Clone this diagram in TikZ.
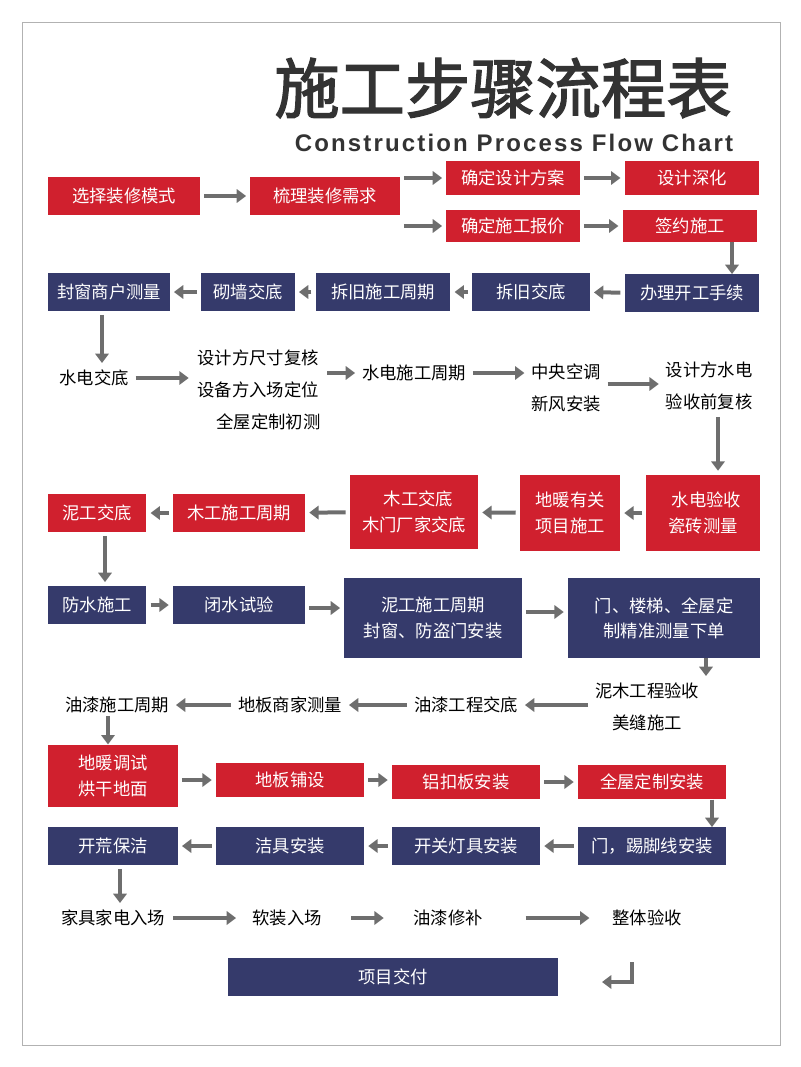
\documentclass[tikz,border=0pt]{standalone}
\usepackage{fontspec}
\setmainfont{Liberation Sans}
\newfontfamily\cjk{Noto Sans CJK SC}
\newfontfamily\cjkbold{Noto Sans CJK SC}[FakeBold=2]
\usetikzlibrary{arrows.meta}
\definecolor{boxred}{HTML}{D0202E}
\definecolor{boxblue}{HTML}{353A6B}
\definecolor{arrgray}{HTML}{6E6E6E}
\definecolor{titlegray}{HTML}{333333}
\tikzset{
  redbox/.style={fill=boxred,text=white,minimum height=28pt,inner sep=2pt,align=center,font=\cjk\fontsize{13}{19}\selectfont},
  bluebox/.style={fill=boxblue,text=white,minimum height=28pt,inner sep=2pt,align=center,font=\cjk\fontsize{13}{19}\selectfont},
  plain/.style={text=black,align=center,inner sep=2pt,font=\cjk\fontsize{13}{24}\selectfont},
  flow/.style={draw=arrgray,line width=3pt,-{Triangle[length=7pt,width=10pt]},shorten <=3pt,shorten >=3pt}
}
\begin{document}
\begin{tikzpicture}[x=0.75pt,y=-0.75pt]
\useasboundingbox (0,0) rectangle (800,1067);
\draw[gray!60] (22,22) rectangle (780,1045);

% title
\node[text=titlegray] at (503,88) {\cjkbold\fontsize{49}{52}\selectfont 施工步骤流程表};
\node[text=titlegray] at (514,143) {\bfseries\fontsize{18}{20}\selectfont\addfontfeature{LetterSpace=9} Construction Process Flow Chart};

% row 1
\node[redbox,minimum width=114pt] (mode) at (124,196) {选择装修模式};
\node[redbox,minimum width=112pt] (need) at (325,196) {梳理装修需求};
\node[redbox,minimum width=100pt,minimum height=26pt] (plan) at (513,178) {确定设计方案};
\node[redbox,minimum width=101pt,minimum height=26pt] (deep) at (692,178) {设计深化};
\node[redbox,minimum width=100pt,minimum height=24pt] (quote) at (513,226) {确定施工报价};
\node[redbox,minimum width=101pt,minimum height=24pt] (sign) at (690,226) {签约施工};
\draw[flow] (mode) -- (need);
\draw[flow] (need.east |- plan) -- (plan.west);
\draw[flow] (need.east |- quote) -- (quote.west);
\draw[flow] (plan) -- (deep);
\draw[flow] (quote) -- (sign);

% row 2
\node[bluebox,minimum width=91pt] (window) at (109,292) {封窗商户测量};
\node[bluebox,minimum width=70pt] (wall) at (248,292) {砌墙交底};
\node[bluebox,minimum width=101pt] (democ) at (383,292) {拆旧施工周期};
\node[bluebox,minimum width=88pt] (demo) at (531,292) {拆旧交底};
\node[bluebox,minimum width=101pt] (start) at (692,293) {办理开工手续};
\draw[flow,shorten <=0pt,shorten >=0pt] (sign.south -| 732,0) -- (start.north -| 732,0);
\draw[flow] (start) -- (demo);
\draw[flow] (demo) -- (democ);
\draw[flow] (democ) -- (wall);
\draw[flow] (wall) -- (window);

% row 3
\node[plain] (elec) at (94,378) {水电交底};
\node[plain] (check) at (258,390) {设计方尺寸复核\\设备方入场定位\\\hspace{1.2em}全屋定制初测};
\node[plain] (elecc) at (414,373) {水电施工周期};
\node[plain] (air) at (566,388) {中央空调\\新风安装};
\node[plain] (recheck) at (709,386) {设计方水电\\验收前复核};
\draw[flow] (window.south -| 102,0) -- (elec.north -| 102,0);
\draw[flow] (elec) -- (check.west |- elec);
\draw[flow] (check.east |- elecc) -- (elecc);
\draw[flow] (elecc) -- (air.west |- elecc);
\draw[flow] (air.east |- 0,384) -- (recheck.west |- 0,384);

% row 4
\node[redbox,minimum width=74pt] (mud) at (97,513) {泥工交底};
\node[redbox,minimum width=99pt] (woodc) at (239,513) {木工施工周期};
\node[redbox,minimum width=96pt,minimum height=56pt] (wood) at (414,512) {\hspace{0.5em}木工交底\\木门厂家交底};
\node[redbox,minimum width=75pt,minimum height=57pt] (heat) at (570,513) {地暖有关\\项目施工};
\node[redbox,minimum width=85pt,minimum height=57pt] (elecok) at (703,513) {\hspace{0.4em}水电验收\\瓷砖测量};
\draw[flow] (recheck.south -| 718,0) -- (elecok.north -| 718,0);
\draw[flow] (elecok) -- (heat);
\draw[flow] (heat) -- (wood);
\draw[flow] (wood) -- (woodc);
\draw[flow] (woodc) -- (mud);

% row 5
\node[bluebox,minimum width=74pt] (water) at (97,605) {防水施工};
\node[bluebox,minimum width=99pt] (test) at (239,605) {闭水试验};
\node[bluebox,minimum width=133pt,minimum height=60pt] (mudc) at (433,618) {泥工施工周期\\封窗、防盗门安装};
\node[bluebox,minimum width=144pt,minimum height=60pt] (stair) at (664,618) {门、楼梯、全屋定\\制精准测量下单};
\draw[flow] (mud.south -| 105,0) -- (water.north -| 105,0);
\draw[flow] (water) -- (test);
\draw[flow] (test.east |- 0,608) -- (mudc.west |- 0,608);
\draw[flow] (mudc.east |- 0,612) -- (stair.west |- 0,612);

% row 6
\node[plain] (paintc) at (117,705) {油漆施工周期};
\node[plain] (floorm) at (290,705) {地板商家测量};
\node[plain] (paint) at (466,705) {油漆工程交底};
\node[plain] (mudok) at (647,707) {泥木工程验收\\美缝施工};
\draw[flow,shorten <=0pt] (stair.south -| 706,0) -- (mudok.north -| 706,0);
\draw[flow] (mudok.west |- paint) -- (paint);
\draw[flow] (paint) -- (floorm);
\draw[flow] (floorm) -- (paintc);

% row 7
\node[redbox,minimum width=97pt,minimum height=47pt] (dry) at (113,776) {地暖调试\\烘干地面};
\node[redbox,minimum width=111pt,minimum height=26pt] (floor) at (290,780) {地板铺设};
\node[redbox,minimum width=111pt,minimum height=26pt] (alu) at (466,782) {铝扣板安装};
\node[redbox,minimum width=111pt,minimum height=26pt] (custom) at (652,782) {全屋定制安装};
\draw[flow,shorten <=0pt,shorten >=0pt] (paintc.south -| 108,0) -- (dry.north -| 108,0);
\draw[flow] (dry.east |- floor) -- (floor);
\draw[flow] (floor) -- (alu.west |- floor);
\draw[flow] (alu) -- (custom);

% row 8
\node[bluebox,minimum width=97pt] (clean) at (113,846) {开荒保洁};
\node[bluebox,minimum width=111pt] (bath) at (290,846) {洁具安装};
\node[bluebox,minimum width=111pt] (light) at (466,846) {开关灯具安装};
\node[bluebox,minimum width=111pt] (skirt) at (652,846) {门，踢脚线安装};
\draw[flow,shorten <=0pt,shorten >=0pt] (custom.south -| 712,0) -- (skirt.north -| 712,0);
\draw[flow] (skirt) -- (light);
\draw[flow] (light) -- (bath);
\draw[flow] (bath) -- (clean);

% row 9
\node[plain] (furn) at (113,918) {家具家电入场};
\node[plain] (soft) at (287,918) {软装入场};
\node[plain] (touch) at (448,918) {油漆修补};
\node[plain] (final) at (647,918) {整体验收};
\draw[flow] (clean.south -| 120,0) -- (furn.north -| 120,0);
\draw[flow,shorten <=4pt,shorten >=10pt] (furn) -- (soft);
\draw[flow,shorten <=20pt,shorten >=20pt] (soft) -- (touch);
\draw[flow,shorten <=30pt,shorten >=15pt] (touch) -- (final);

% row 10
\node[bluebox,minimum width=248pt] (deliver) at (393,977) {项目交付};
\coordinate (turn) at (632,982);
\draw[flow,shorten <=0pt,shorten >=0pt] (632,962) -- (turn) -- (602,982);
\end{tikzpicture}
\end{document}
